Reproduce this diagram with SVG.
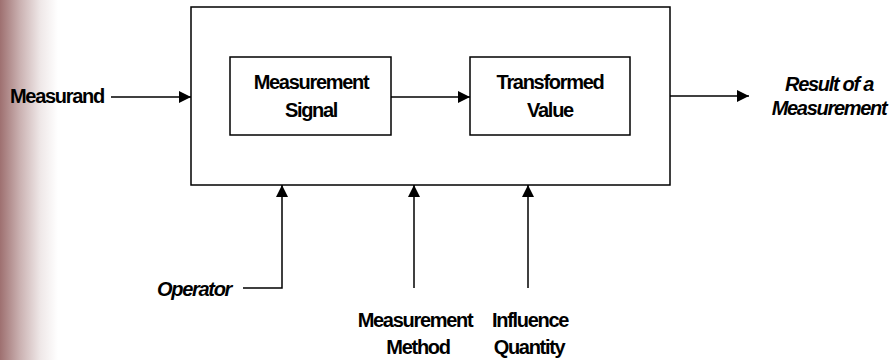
<svg xmlns="http://www.w3.org/2000/svg" width="893" height="360" viewBox="0 0 893 360">
<style>
.box{fill:#fff;stroke:#000;stroke-width:1.5}
.ln{fill:none;stroke:#000;stroke-width:1.5}
.t{font-family:"Liberation Sans",Arial,sans-serif;font-weight:bold;font-size:20px;letter-spacing:-1.3px;fill:#000}
.c{text-anchor:middle}
.i{font-style:italic}
</style>
<defs>
<linearGradient id="g" x1="0" y1="0" x2="1" y2="0">
<stop offset="0" stop-color="#9e7070"/>
<stop offset="0.35" stop-color="#cbb2b2"/>
<stop offset="0.7" stop-color="#efe8e8"/>
<stop offset="1" stop-color="#ffffff"/>
</linearGradient>
<marker id="a" viewBox="0 0 12 12" refX="12" refY="6" markerWidth="12" markerHeight="12" markerUnits="userSpaceOnUse" orient="auto">
<path d="M0,0 L12,6 L0,12 Z" fill="#000"/>
</marker>
</defs>
<rect width="893" height="360" fill="#fff"/>
<rect x="0" y="0" width="58" height="360" fill="url(#g)"/>
<g id="system"><rect class="box" x="191" y="7" width="479" height="178"/></g>
<g id="signal"><rect class="box" x="230" y="57" width="161" height="78"/>
<text class="t c" x="311" y="89">Measurement</text><text class="t c" x="311" y="117">Signal</text></g>
<g id="value"><rect class="box" x="470" y="57" width="160" height="78"/>
<text class="t c" x="550" y="89">Transformed</text><text class="t c" x="550" y="117">Value</text></g>
<g id="measurand"><text class="t" x="10" y="103">Measurand</text></g>
<g id="result"><text class="t c i" x="829" y="91">Result of a</text><text class="t c i" x="829" y="115">Measurement</text></g>
<g id="operator"><text class="t i" x="157" y="296">Operator</text></g>
<g id="method"><text class="t c" x="415" y="327">Measurement</text><text class="t c" x="418" y="354">Method</text></g>
<g id="influence"><text class="t c" x="530" y="327">Influence</text><text class="t c" x="529" y="354">Quantity</text></g>
<g id="connectors">
<line class="ln" x1="111" y1="97" x2="191" y2="97" marker-end="url(#a)"/>
<line class="ln" x1="391" y1="97" x2="470" y2="97" marker-end="url(#a)"/>
<line class="ln" x1="670" y1="96" x2="749" y2="96" marker-end="url(#a)"/>
<polyline class="ln" points="243,288 282,288 282,185" marker-end="url(#a)"/>
<line class="ln" x1="414" y1="288" x2="414" y2="185" marker-end="url(#a)"/>
<line class="ln" x1="528" y1="288" x2="528" y2="185" marker-end="url(#a)"/>
</g>
</svg>
